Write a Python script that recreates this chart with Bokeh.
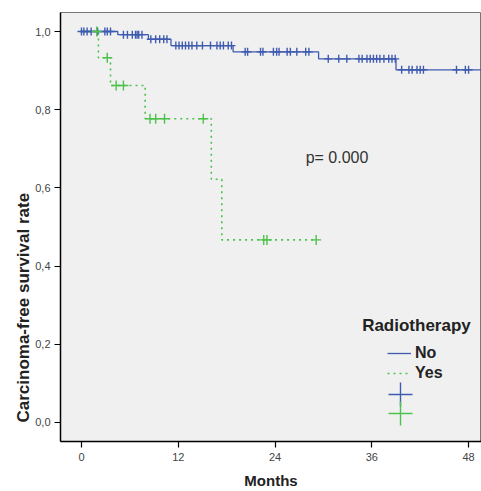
from bokeh.plotting import figure
from bokeh.models import (Range1d, FixedTicker, Legend, LegendItem, Label, Title)
from bokeh.embed import file_html
from bokeh.resources import INLINE
import numpy as np

# ---- data ----
no_event_times = [4.5, 8.3, 11.1, 18.8, 29.4, 39.0]
no_levels = [1.0, 0.992, 0.980, 0.964, 0.948, 0.930, 0.902]
no_end = 50.0
no_censor = [0.0, 0.3, 0.7, 1.2, 2.0, 2.9, 3.2, 3.6,
             5.2, 5.7, 6.3, 6.7, 6.9, 7.1, 7.5,
             8.6, 9.2, 9.7, 10.2, 10.6,
             11.7, 12.1, 12.5, 12.9, 13.3, 13.7, 14.3, 15.0, 16.0, 16.8, 17.2, 17.6, 18.2, 18.6,
             20.3, 20.6, 22.2, 22.5, 23.8, 24.2, 24.5, 25.5, 25.9, 26.7, 27.8, 28.2,
             30.6, 31.9, 32.9, 34.4, 34.8, 35.4, 35.8, 36.2, 36.6, 37.0, 37.5, 38.1, 38.5, 38.9,
             39.7, 40.6, 41.0, 41.6, 42.0, 42.4, 46.5, 47.6, 48.0]

yes_event_times = [2.1, 3.6, 7.9, 16.1, 17.4]
yes_levels = [1.0, 0.933, 0.862, 0.777, 0.622, 0.467]
yes_end = 29.1
yes_censor = [1.9, 3.2, 4.3, 5.2, 8.5, 9.2, 10.3, 15.1, 22.6, 23.0, 29.1]

x_ticks = [0, 12, 24, 36, 48]
y_ticks = [0.0, 0.2, 0.4, 0.6, 0.8, 1.0]
y_tick_labels = ["0,0", "0,2", "0,4", "0,6", "0,8", "1,0"]
p_text = "p= 0.000"
legend_title = "Radiotherapy"
group_labels = ["No", "Yes"]
x_title = "Months"
y_title = "Carcinoma-free survival rate"

BLUE = "#3F5BB0"
GREEN = "#4CC24C"
FONT = "Liberation Sans"


def step_path(events, levels, end):
    xs = [0.0] + list(events) + [end]
    ys = list(levels) + [levels[-1]]
    return xs, ys


def level_at(t, events, levels):
    idx = int(np.searchsorted(np.array(events), t, side="right"))
    return levels[idx]


p = figure(width=481, height=491, output_backend="svg", toolbar_location=None,
           x_range=Range1d(-2.6, 49.6), y_range=Range1d(-0.0486, 1.0486),
           min_border_left=60, min_border_right=0, min_border_top=12, min_border_bottom=50)
p.background_fill_color = "#F0F0F0"
p.border_fill_color = "white"
p.outline_line_color = "#777777"
p.outline_line_width = 1
p.xgrid.visible = False
p.ygrid.visible = False

nx, ny = step_path(no_event_times, no_levels, no_end)
yx, yy = step_path(yes_event_times, yes_levels, yes_end)

r_no = p.step(nx, ny, mode="after", line_color=BLUE, line_width=1.3)
r_yes = p.step(yx, yy, mode="after", line_color=GREEN, line_width=1.6, line_dash="2 4")

nc_y = [level_at(t, no_event_times, no_levels) for t in no_censor]
yc_y = [level_at(t, yes_event_times, yes_levels) for t in yes_censor]
r_nc = p.scatter(no_censor, nc_y, marker="cross", size=8, line_color=BLUE, line_width=1.4)
r_yc = p.scatter(yes_censor, yc_y, marker="cross", size=10, line_color=GREEN, line_width=1.4)

for ax in (p.xaxis[0], p.yaxis[0]):
    ax.axis_line_color = "black"
    ax.axis_line_width = 1.5
    ax.major_tick_line_color = "black"
    ax.major_tick_line_width = 1.2
    ax.major_tick_out = 6
    ax.major_tick_in = 0
    ax.minor_tick_out = 0
    ax.minor_tick_in = 0
    ax.major_label_text_font = FONT
    ax.major_label_text_font_size = "11px"
    ax.major_label_text_color = "#444444"
    ax.axis_label_text_font = FONT
    ax.axis_label_text_font_style = "bold"
    ax.axis_label_text_color = "#222222"

p.xaxis.ticker = FixedTicker(ticks=x_ticks)
p.yaxis.ticker = FixedTicker(ticks=y_ticks)
p.yaxis.major_label_overrides = {t: l for t, l in zip(y_ticks, y_tick_labels)}
p.xaxis.axis_label = x_title
p.xaxis.axis_label_text_font_size = "15px"
p.xaxis.major_label_standoff = 5
p.xaxis.axis_label_standoff = 8
p.yaxis.major_label_standoff = 4

# y-axis title: placed toward the bottom of the axis, as in the reference
p.add_layout(Title(text=y_title, align="left", offset=19, standoff=0,
                   text_font=FONT, text_font_size="17px", text_font_style="bold",
                   text_color="#222222"), "left")

p.add_layout(Label(x=27.8, y=0.678, text=p_text, text_font=FONT, text_font_size="16px",
                   text_color="#333333", text_baseline="middle"))
p.add_layout(Label(x=34.8, y=0.248, text=legend_title, text_font=FONT, text_font_size="17px",
                   text_font_style="bold", text_color="#222222", text_baseline="middle"))

legend = Legend(items=[LegendItem(label=group_labels[0], renderers=[r_no]),
                       LegendItem(label=group_labels[1], renderers=[r_yes])],
                location=(327, 58), padding=0, margin=0, spacing=0,
                glyph_width=24, glyph_height=20, label_height=20, label_standoff=4,
                background_fill_alpha=0, border_line_color=None,
                label_text_font=FONT, label_text_font_size="16px",
                label_text_font_style="bold", label_text_color="#222222",
                label_text_baseline="middle")
p.add_layout(legend)

for r, loc in ((r_nc, (310, 17)), (r_yc, (310, -2))):
    lg = Legend(items=[LegendItem(label="", renderers=[r])], location=loc,
                padding=0, margin=0, spacing=0, glyph_width=60, glyph_height=60,
                label_height=60, label_standoff=0, label_width=0,
                background_fill_alpha=0, border_line_color=None)
    p.add_layout(lg)

open("out.html", "w").write(file_html(p, INLINE))
